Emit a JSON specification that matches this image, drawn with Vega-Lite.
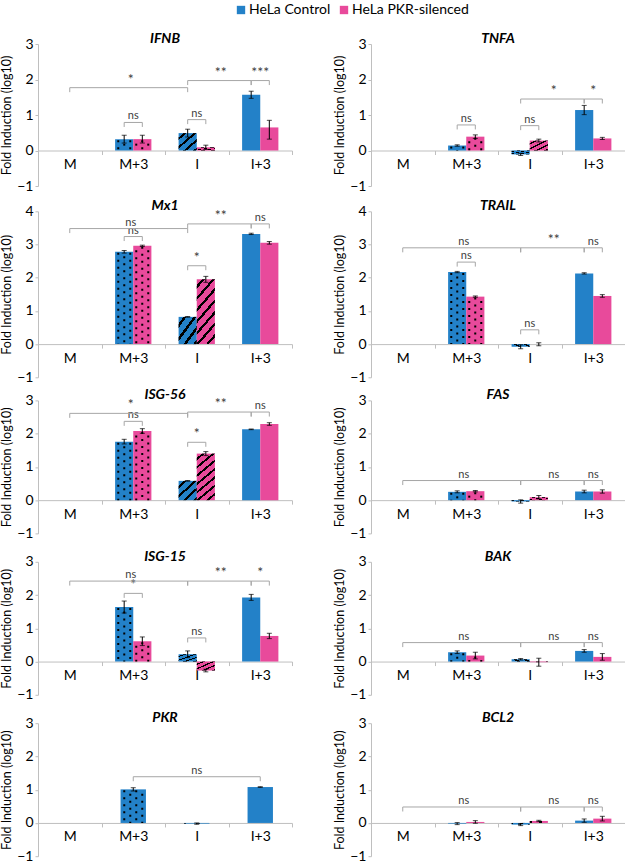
{
"$schema": "https://vega.github.io/schema/vega-lite/v6.json",
"padding": {"left": 0, "top": 3, "right": 0, "bottom": 0},
"config": {"view": {"stroke": null}, "font": "Lato", "axis": {"labelFont": "Lato", "titleFont": "Lato"}},
"datasets": {"rows": [
{"gene":"IFNB","kind":"bar","cat":"M+3","series":"HeLa Control","value":0.32,"lo":0.21,"hi":0.43},
{"gene":"IFNB","kind":"bar","cat":"M+3","series":"HeLa PKR-silenced","value":0.32,"lo":0.21,"hi":0.43},
{"gene":"IFNB","kind":"bar","cat":"I","series":"HeLa Control","value":0.49,"lo":0.38,"hi":0.6},
{"gene":"IFNB","kind":"bar","cat":"I","series":"HeLa PKR-silenced","value":0.09,"lo":0.03,"hi":0.15},
{"gene":"IFNB","kind":"bar","cat":"I+3","series":"HeLa Control","value":1.57,"lo":1.47,"hi":1.67},
{"gene":"IFNB","kind":"bar","cat":"I+3","series":"HeLa PKR-silenced","value":0.65,"lo":0.32,"hi":0.85},
{"gene":"IFNB","kind":"br","type":"pair","from":"M+3","to":"M+3","level":0.79,"label":"ns"},
{"gene":"IFNB","kind":"br","type":"pair","from":"I","to":"I","level":0.87,"label":"ns"},
{"gene":"IFNB","kind":"br","type":"pair","from":"I+3","to":"I+3","level":1.97,"label":"***"},
{"gene":"IFNB","kind":"br","type":"MI","from":"M","to":"I","level":1.77,"label":"*"},
{"gene":"IFNB","kind":"br","type":"II3","from":"I","to":"I+3","level":1.97,"label":"**"},
{"gene":"TNFA","kind":"bar","cat":"M+3","series":"HeLa Control","value":0.14,"lo":0.12,"hi":0.16},
{"gene":"TNFA","kind":"bar","cat":"M+3","series":"HeLa PKR-silenced","value":0.39,"lo":0.34,"hi":0.44},
{"gene":"TNFA","kind":"bar","cat":"I","series":"HeLa Control","value":-0.11,"lo":-0.14,"hi":-0.08},
{"gene":"TNFA","kind":"bar","cat":"I","series":"HeLa PKR-silenced","value":0.28,"lo":0.24,"hi":0.32},
{"gene":"TNFA","kind":"bar","cat":"I+3","series":"HeLa Control","value":1.14,"lo":1.01,"hi":1.27},
{"gene":"TNFA","kind":"bar","cat":"I+3","series":"HeLa PKR-silenced","value":0.34,"lo":0.31,"hi":0.37},
{"gene":"TNFA","kind":"br","type":"pair","from":"M+3","to":"M+3","level":0.72,"label":"ns"},
{"gene":"TNFA","kind":"br","type":"pair","from":"I","to":"I","level":0.7,"label":"ns"},
{"gene":"TNFA","kind":"br","type":"pair","from":"I+3","to":"I+3","level":1.45,"label":"*"},
{"gene":"TNFA","kind":"br","type":"II3","from":"I","to":"I+3","level":1.45,"label":"*"},
{"gene":"Mx1","kind":"bar","cat":"M+3","series":"HeLa Control","value":2.78,"lo":2.74,"hi":2.82},
{"gene":"Mx1","kind":"bar","cat":"M+3","series":"HeLa PKR-silenced","value":2.96,"lo":2.94,"hi":2.98},
{"gene":"Mx1","kind":"bar","cat":"I","series":"HeLa Control","value":0.82,"lo":0.81,"hi":0.83},
{"gene":"Mx1","kind":"bar","cat":"I","series":"HeLa PKR-silenced","value":1.95,"lo":1.86,"hi":2.04},
{"gene":"Mx1","kind":"bar","cat":"I+3","series":"HeLa Control","value":3.32,"lo":3.3,"hi":3.34},
{"gene":"Mx1","kind":"bar","cat":"I+3","series":"HeLa PKR-silenced","value":3.05,"lo":3.01,"hi":3.09},
{"gene":"Mx1","kind":"br","type":"pair","from":"M+3","to":"M+3","level":3.24,"label":"ns"},
{"gene":"Mx1","kind":"br","type":"pair","from":"I","to":"I","level":2.36,"label":"*"},
{"gene":"Mx1","kind":"br","type":"pair","from":"I+3","to":"I+3","level":3.62,"label":"ns"},
{"gene":"Mx1","kind":"br","type":"MI","from":"M","to":"I","level":3.48,"label":"ns"},
{"gene":"Mx1","kind":"br","type":"II3","from":"I","to":"I+3","level":3.62,"label":"**"},
{"gene":"TRAIL","kind":"bar","cat":"M+3","series":"HeLa Control","value":2.17,"lo":2.15,"hi":2.19},
{"gene":"TRAIL","kind":"bar","cat":"M+3","series":"HeLa PKR-silenced","value":1.43,"lo":1.41,"hi":1.45},
{"gene":"TRAIL","kind":"bar","cat":"I","series":"HeLa Control","value":-0.08,"lo":-0.14,"hi":-0.02},
{"gene":"TRAIL","kind":"bar","cat":"I","series":"HeLa PKR-silenced","value":0.0,"lo":-0.05,"hi":0.04},
{"gene":"TRAIL","kind":"bar","cat":"I+3","series":"HeLa Control","value":2.13,"lo":2.11,"hi":2.15},
{"gene":"TRAIL","kind":"bar","cat":"I+3","series":"HeLa PKR-silenced","value":1.45,"lo":1.41,"hi":1.49},
{"gene":"TRAIL","kind":"br","type":"pair","from":"M+3","to":"M+3","level":2.47,"label":"ns"},
{"gene":"TRAIL","kind":"br","type":"pair","from":"I","to":"I","level":0.43,"label":"ns"},
{"gene":"TRAIL","kind":"br","type":"pair","from":"I+3","to":"I+3","level":2.9,"label":"ns"},
{"gene":"TRAIL","kind":"br","type":"MI","from":"M","to":"I","level":2.9,"label":"ns"},
{"gene":"TRAIL","kind":"br","type":"II3","from":"I","to":"I+3","level":2.9,"label":"**"},
{"gene":"ISG-56","kind":"bar","cat":"M+3","series":"HeLa Control","value":1.76,"lo":1.69,"hi":1.83},
{"gene":"ISG-56","kind":"bar","cat":"M+3","series":"HeLa PKR-silenced","value":2.08,"lo":2.01,"hi":2.15},
{"gene":"ISG-56","kind":"bar","cat":"I","series":"HeLa Control","value":0.58,"lo":0.57,"hi":0.59},
{"gene":"ISG-56","kind":"bar","cat":"I","series":"HeLa PKR-silenced","value":1.4,"lo":1.34,"hi":1.46},
{"gene":"ISG-56","kind":"bar","cat":"I+3","series":"HeLa Control","value":2.13,"lo":2.12,"hi":2.14},
{"gene":"ISG-56","kind":"bar","cat":"I+3","series":"HeLa PKR-silenced","value":2.29,"lo":2.25,"hi":2.33},
{"gene":"ISG-56","kind":"br","type":"pair","from":"M+3","to":"M+3","level":2.37,"label":"ns"},
{"gene":"ISG-56","kind":"br","type":"pair","from":"I","to":"I","level":1.74,"label":"*"},
{"gene":"ISG-56","kind":"br","type":"pair","from":"I+3","to":"I+3","level":2.65,"label":"ns"},
{"gene":"ISG-56","kind":"br","type":"MI","from":"M","to":"I","level":2.61,"label":"*"},
{"gene":"ISG-56","kind":"br","type":"II3","from":"I","to":"I+3","level":2.65,"label":"**"},
{"gene":"FAS","kind":"bar","cat":"M+3","series":"HeLa Control","value":0.25,"lo":0.22,"hi":0.28},
{"gene":"FAS","kind":"bar","cat":"M+3","series":"HeLa PKR-silenced","value":0.27,"lo":0.25,"hi":0.29},
{"gene":"FAS","kind":"bar","cat":"I","series":"HeLa Control","value":-0.04,"lo":-0.09,"hi":0.01},
{"gene":"FAS","kind":"bar","cat":"I","series":"HeLa PKR-silenced","value":0.09,"lo":0.04,"hi":0.14},
{"gene":"FAS","kind":"bar","cat":"I+3","series":"HeLa Control","value":0.26,"lo":0.22,"hi":0.3},
{"gene":"FAS","kind":"bar","cat":"I+3","series":"HeLa PKR-silenced","value":0.26,"lo":0.21,"hi":0.31},
{"gene":"FAS","kind":"br","type":"pair","from":"I+3","to":"I+3","level":0.59,"label":"ns"},
{"gene":"FAS","kind":"br","type":"MI","from":"M","to":"I","level":0.59,"label":"ns"},
{"gene":"FAS","kind":"br","type":"II3","from":"I","to":"I+3","level":0.59,"label":"ns"},
{"gene":"ISG-15","kind":"bar","cat":"M+3","series":"HeLa Control","value":1.64,"lo":1.46,"hi":1.82},
{"gene":"ISG-15","kind":"bar","cat":"M+3","series":"HeLa PKR-silenced","value":0.61,"lo":0.48,"hi":0.74},
{"gene":"ISG-15","kind":"bar","cat":"I","series":"HeLa Control","value":0.22,"lo":0.12,"hi":0.32},
{"gene":"ISG-15","kind":"bar","cat":"I","series":"HeLa PKR-silenced","value":-0.27,"lo":-0.31,"hi":-0.23},
{"gene":"ISG-15","kind":"bar","cat":"I+3","series":"HeLa Control","value":1.93,"lo":1.84,"hi":2.02},
{"gene":"ISG-15","kind":"bar","cat":"I+3","series":"HeLa PKR-silenced","value":0.77,"lo":0.69,"hi":0.85},
{"gene":"ISG-15","kind":"br","type":"pair","from":"M+3","to":"M+3","level":2.05,"label":"*"},
{"gene":"ISG-15","kind":"br","type":"pair","from":"I","to":"I","level":0.71,"label":"ns"},
{"gene":"ISG-15","kind":"br","type":"pair","from":"I+3","to":"I+3","level":2.42,"label":"*"},
{"gene":"ISG-15","kind":"br","type":"MI","from":"M","to":"I","level":2.42,"label":"ns"},
{"gene":"ISG-15","kind":"br","type":"II3","from":"I","to":"I+3","level":2.42,"label":"**"},
{"gene":"BAK","kind":"bar","cat":"M+3","series":"HeLa Control","value":0.28,"lo":0.24,"hi":0.32},
{"gene":"BAK","kind":"bar","cat":"M+3","series":"HeLa PKR-silenced","value":0.18,"lo":0.08,"hi":0.28},
{"gene":"BAK","kind":"bar","cat":"I","series":"HeLa Control","value":0.07,"lo":0.05,"hi":0.09},
{"gene":"BAK","kind":"bar","cat":"I","series":"HeLa PKR-silenced","value":-0.02,"lo":-0.14,"hi":0.1},
{"gene":"BAK","kind":"bar","cat":"I+3","series":"HeLa Control","value":0.32,"lo":0.28,"hi":0.36},
{"gene":"BAK","kind":"bar","cat":"I+3","series":"HeLa PKR-silenced","value":0.14,"lo":0.04,"hi":0.24},
{"gene":"BAK","kind":"br","type":"pair","from":"I+3","to":"I+3","level":0.57,"label":"ns"},
{"gene":"BAK","kind":"br","type":"MI","from":"M","to":"I","level":0.57,"label":"ns"},
{"gene":"BAK","kind":"br","type":"II3","from":"I","to":"I+3","level":0.57,"label":"ns"},
{"gene":"PKR","kind":"bar","cat":"M+3","series":"HeLa Control","value":1.01,"lo":0.96,"hi":1.06},
{"gene":"PKR","kind":"bar","cat":"I","series":"HeLa Control","value":-0.02,"lo":-0.04,"hi":0.0},
{"gene":"PKR","kind":"bar","cat":"I+3","series":"HeLa Control","value":1.08,"lo":1.07,"hi":1.09},
{"gene":"PKR","kind":"br","type":"c2c","from":"M+3","to":"I+3","level":1.39,"label":"ns"},
{"gene":"BCL2","kind":"bar","cat":"M+3","series":"HeLa Control","value":-0.02,"lo":-0.05,"hi":0.01},
{"gene":"BCL2","kind":"bar","cat":"M+3","series":"HeLa PKR-silenced","value":0.03,"lo":-0.01,"hi":0.07},
{"gene":"BCL2","kind":"bar","cat":"I","series":"HeLa Control","value":-0.05,"lo":-0.08,"hi":-0.02},
{"gene":"BCL2","kind":"bar","cat":"I","series":"HeLa PKR-silenced","value":0.06,"lo":0.04,"hi":0.08},
{"gene":"BCL2","kind":"bar","cat":"I+3","series":"HeLa Control","value":0.07,"lo":0.02,"hi":0.12},
{"gene":"BCL2","kind":"bar","cat":"I+3","series":"HeLa PKR-silenced","value":0.13,"lo":0.06,"hi":0.2},
{"gene":"BCL2","kind":"br","type":"pair","from":"I+3","to":"I+3","level":0.48,"label":"ns"},
{"gene":"BCL2","kind":"br","type":"MI","from":"M","to":"I","level":0.48,"label":"ns"},
{"gene":"BCL2","kind":"br","type":"II3","from":"I","to":"I+3","level":0.48,"label":"ns"}
]},
"data": {"name": "rows"},
"spacing": 3.4,
"vconcat": [
{"spacing": 6.3, "vconcat": [
{
"transform": [{"filter": {"field": "gene", "oneOf": ["IFNB", "TNFA"]}}],
"facet": {"field": "gene", "type": "nominal", "sort": ["IFNB", "TNFA"], "header": {"title": null, "labelFontSize": 14, "labelFontWeight": "bold", "labelFontStyle": "italic", "labelColor": "#000", "labelPadding": -9, "labelFont": "Lato"}},
"columns": 2,
"spacing": {"row": 9.4, "column": 40},
"resolve": {"scale": {"xOffset": "independent"}, "axis": {"x": "independent", "y": "independent"}},
"spec": {"width": 254, "height": 142, "layer": [
{"transform": [{"filter": "datum.kind=='bar'"}], "mark": {"type": "bar"},
 "encoding": {
  "x": {"field": "cat", "type": "nominal", "sort": ["M","M+3","I","I+3"], "scale": {"type": "band", "domain": ["M","M+3","I","I+3"], "paddingInner": 0, "paddingOuter": 0},
        "axis": {"title": null, "tickBand": "extent", "offset": -35.5, "domainColor": "#BFBFBF", "tickColor": "#BFBFBF", "tickSize": 4, "labelAngle": 0, "labelFontSize": 14, "labelPadding": 3, "labelColor": "#000"}},
  "xOffset": {"field": "series", "type": "nominal", "scale": {"paddingInner": 0, "paddingOuter": 0.75}},
  "y": {"field": "value", "type": "quantitative", "scale": {"domain": [-1, 3], "nice": false},
        "axis": {"title": "Fold Induction (log10)", "values": [-1,0,1,2,3], "tickCount": 10, "format": "d", "labelOverlap": false, "grid": false, "domainColor": "#BFBFBF", "tickColor": "#BFBFBF", "tickSize": 3, "labelFontSize": 14, "labelPadding": 2, "labelColor": "#000", "titleFontSize": 12.5, "titleFontWeight": "normal", "titleColor": "#000", "titlePadding": 3}},
  "color": {"field": "series", "type": "nominal", "scale": {"domain": ["HeLa Control", "HeLa PKR-silenced"], "range": ["#2381C8", "#E84A9B"]},
        "legend": {"orient": "none", "legendX": 196, "legendY": -41, "direction": "horizontal", "title": null, "symbolType": "square", "symbolSize": 70, "labelFontSize": 14, "labelFont": "Lato", "labelColor": "#000", "columnPadding": 6, "labelOffset": 1}}
 }},
{"transform": [{"filter": "datum.kind=='bar' && datum.cat=='M+3' && datum.series=='HeLa Control' && datum.gene!='PKR'"}], "mark": {"type": "rule", "color": "#000000", "strokeWidth": 2, "strokeDash": [2, 5], "strokeDashOffset": 6, "xOffset": -15}, "encoding": {"x": {"field": "cat", "type": "nominal"}, "y": {"field": "value", "type": "quantitative"}, "y2": {"datum": 0}}},
{"transform": [{"filter": "datum.kind=='bar' && datum.cat=='M+3' && datum.series=='HeLa Control' && datum.gene!='PKR'"}], "mark": {"type": "rule", "color": "#000000", "strokeWidth": 2, "strokeDash": [2, 5], "strokeDashOffset": 2.5, "xOffset": -9}, "encoding": {"x": {"field": "cat", "type": "nominal"}, "y": {"field": "value", "type": "quantitative"}, "y2": {"datum": 0}}},
{"transform": [{"filter": "datum.kind=='bar' && datum.cat=='M+3' && datum.series=='HeLa Control' && datum.gene!='PKR'"}], "mark": {"type": "rule", "color": "#000000", "strokeWidth": 2, "strokeDash": [2, 5], "strokeDashOffset": 6, "xOffset": -3}, "encoding": {"x": {"field": "cat", "type": "nominal"}, "y": {"field": "value", "type": "quantitative"}, "y2": {"datum": 0}}},
{"transform": [{"filter": "datum.kind=='bar' && datum.cat=='M+3' && datum.series=='HeLa PKR-silenced'"}], "mark": {"type": "rule", "color": "#000000", "strokeWidth": 2, "strokeDash": [2, 5], "strokeDashOffset": 2.5, "xOffset": 3}, "encoding": {"x": {"field": "cat", "type": "nominal"}, "y": {"field": "value", "type": "quantitative"}, "y2": {"datum": 0}}},
{"transform": [{"filter": "datum.kind=='bar' && datum.cat=='M+3' && datum.series=='HeLa PKR-silenced'"}], "mark": {"type": "rule", "color": "#000000", "strokeWidth": 2, "strokeDash": [2, 5], "strokeDashOffset": 6, "xOffset": 9}, "encoding": {"x": {"field": "cat", "type": "nominal"}, "y": {"field": "value", "type": "quantitative"}, "y2": {"datum": 0}}},
{"transform": [{"filter": "datum.kind=='bar' && datum.cat=='M+3' && datum.series=='HeLa PKR-silenced'"}], "mark": {"type": "rule", "color": "#000000", "strokeWidth": 2, "strokeDash": [2, 5], "strokeDashOffset": 2.5, "xOffset": 15}, "encoding": {"x": {"field": "cat", "type": "nominal"}, "y": {"field": "value", "type": "quantitative"}, "y2": {"datum": 0}}},
{"transform": [{"filter": "datum.kind=='bar' && datum.cat=='I' && abs(datum.value) < 1"}],
 "mark": {"type": "bar", "fill": {"gradient": "linear", "x1": 0, "y1": 0, "x2": 0.945, "y2": 1.05, "stops": [
   {"offset": 0, "color": "rgba(0,0,0,0)"}, {"offset": 0.13, "color": "rgba(0,0,0,0)"}, {"offset": 0.13, "color": "#000"}, {"offset": 0.21, "color": "#000"}, {"offset": 0.21, "color": "rgba(0,0,0,0)"},
   {"offset": 0.39, "color": "rgba(0,0,0,0)"}, {"offset": 0.39, "color": "#000"}, {"offset": 0.47, "color": "#000"}, {"offset": 0.47, "color": "rgba(0,0,0,0)"},
   {"offset": 0.65, "color": "rgba(0,0,0,0)"}, {"offset": 0.65, "color": "#000"}, {"offset": 0.73, "color": "#000"}, {"offset": 0.73, "color": "rgba(0,0,0,0)"},
   {"offset": 0.91, "color": "rgba(0,0,0,0)"}, {"offset": 0.91, "color": "#000"}, {"offset": 0.99, "color": "#000"}, {"offset": 0.99, "color": "rgba(0,0,0,0)"}, {"offset": 1, "color": "rgba(0,0,0,0)"}]}},
 "encoding": {"x": {"field": "cat", "type": "nominal"}, "xOffset": {"field": "series", "type": "nominal"}, "y": {"field": "value", "type": "quantitative"}}},
{"transform": [{"filter": "datum.kind=='bar'"}], "mark": {"type": "rule", "color": "#000000", "strokeWidth": 1},
 "encoding": {"x": {"field": "cat", "type": "nominal"}, "xOffset": {"field": "series", "type": "nominal"}, "y": {"field": "lo", "type": "quantitative"}, "y2": {"field": "hi"}}},
{"transform": [{"filter": "datum.kind=='bar'"}], "mark": {"type": "tick", "color": "#000000", "size": 5, "thickness": 1, "orient": "horizontal"},
 "encoding": {"x": {"field": "cat", "type": "nominal"}, "xOffset": {"field": "series", "type": "nominal"}, "y": {"field": "lo", "type": "quantitative"}}},
{"transform": [{"filter": "datum.kind=='bar'"}], "mark": {"type": "tick", "color": "#000000", "size": 5, "thickness": 1, "orient": "horizontal"},
 "encoding": {"x": {"field": "cat", "type": "nominal"}, "xOffset": {"field": "series", "type": "nominal"}, "y": {"field": "hi", "type": "quantitative"}}},
{"transform": [{"filter": "datum.type=='pair'"}], "mark": {"type": "rule", "color": "#A6A6A6", "strokeWidth": 1, "xOffset": -9.07, "x2Offset": 9.07},
 "encoding": {"x": {"field": "from", "type": "nominal"}, "x2": {"field": "to"}, "y": {"field": "level", "type": "quantitative"}}},
{"transform": [{"filter": "datum.type=='pair'"}], "mark": {"type": "rule", "color": "#A6A6A6", "strokeWidth": 1, "xOffset": -9.07, "y2Offset": 4.5},
 "encoding": {"x": {"field": "from", "type": "nominal"}, "y": {"field": "level", "type": "quantitative"}, "y2": {"field": "level"}}},
{"transform": [{"filter": "datum.type=='pair'"}], "mark": {"type": "rule", "color": "#A6A6A6", "strokeWidth": 1, "xOffset": 9.07, "y2Offset": 4.5},
 "encoding": {"x": {"field": "to", "type": "nominal"}, "y": {"field": "level", "type": "quantitative"}, "y2": {"field": "level"}}},
{"transform": [{"filter": "datum.type=='pair'"}], "mark": {"type": "text", "color": "#404040", "fontSize": 11, "baseline": "bottom", "dy": -1},
 "encoding": {"x": {"field": "from", "type": "nominal"}, "y": {"field": "level", "type": "quantitative"}, "text": {"field": "label"}, "size": {"condition": {"test": "datum.label == 'ns'", "value": 11}, "value": 14}}},
{"transform": [{"filter": "datum.type=='MI'"}], "mark": {"type": "rule", "color": "#A6A6A6", "strokeWidth": 1, "xOffset": 0, "x2Offset": -9.07},
 "encoding": {"x": {"field": "from", "type": "nominal"}, "x2": {"field": "to"}, "y": {"field": "level", "type": "quantitative"}}},
{"transform": [{"filter": "datum.type=='MI'"}], "mark": {"type": "rule", "color": "#A6A6A6", "strokeWidth": 1, "xOffset": 0, "y2Offset": 4.5},
 "encoding": {"x": {"field": "from", "type": "nominal"}, "y": {"field": "level", "type": "quantitative"}, "y2": {"field": "level"}}},
{"transform": [{"filter": "datum.type=='MI'"}], "mark": {"type": "rule", "color": "#A6A6A6", "strokeWidth": 1, "xOffset": -9.07, "y2Offset": 4.5},
 "encoding": {"x": {"field": "to", "type": "nominal"}, "y": {"field": "level", "type": "quantitative"}, "y2": {"field": "level"}}},
{"transform": [{"filter": "datum.type=='MI'"}], "mark": {"type": "text", "color": "#404040", "fontSize": 11, "baseline": "bottom", "dy": -1, "xOffset": 61},
 "encoding": {"x": {"field": "from", "type": "nominal"}, "y": {"field": "level", "type": "quantitative"}, "text": {"field": "label"}, "size": {"condition": {"test": "datum.label == 'ns'", "value": 11}, "value": 14}}},
{"transform": [{"filter": "datum.type=='II3'"}], "mark": {"type": "rule", "color": "#A6A6A6", "strokeWidth": 1, "xOffset": -9.07, "x2Offset": -9.07},
 "encoding": {"x": {"field": "from", "type": "nominal"}, "x2": {"field": "to"}, "y": {"field": "level", "type": "quantitative"}}},
{"transform": [{"filter": "datum.type=='II3'"}], "mark": {"type": "rule", "color": "#A6A6A6", "strokeWidth": 1, "xOffset": -9.07, "y2Offset": 4.5},
 "encoding": {"x": {"field": "from", "type": "nominal"}, "y": {"field": "level", "type": "quantitative"}, "y2": {"field": "level"}}},
{"transform": [{"filter": "datum.type=='II3'"}], "mark": {"type": "rule", "color": "#A6A6A6", "strokeWidth": 1, "xOffset": -9.07, "y2Offset": 4.5},
 "encoding": {"x": {"field": "to", "type": "nominal"}, "y": {"field": "level", "type": "quantitative"}, "y2": {"field": "level"}}},
{"transform": [{"filter": "datum.type=='II3'"}], "mark": {"type": "text", "color": "#404040", "fontSize": 11, "baseline": "bottom", "dy": -1, "xOffset": 24},
 "encoding": {"x": {"field": "from", "type": "nominal"}, "y": {"field": "level", "type": "quantitative"}, "text": {"field": "label"}, "size": {"condition": {"test": "datum.label == 'ns'", "value": 11}, "value": 14}}}
]}
},
{
"transform": [{"filter": {"field": "gene", "oneOf": ["Mx1", "TRAIL"]}}],
"facet": {"field": "gene", "type": "nominal", "sort": ["Mx1", "TRAIL"], "header": {"title": null, "labelFontSize": 14, "labelFontWeight": "bold", "labelFontStyle": "italic", "labelColor": "#000", "labelPadding": -9, "labelFont": "Lato"}},
"columns": 2,
"spacing": {"row": 9.4, "column": 40},
"resolve": {"scale": {"xOffset": "independent"}, "axis": {"x": "independent", "y": "independent"}},
"spec": {"width": 254, "height": 166, "layer": [
{"transform": [{"filter": "datum.kind=='bar'"}], "mark": {"type": "bar"},
 "encoding": {
  "x": {"field": "cat", "type": "nominal", "sort": ["M","M+3","I","I+3"], "scale": {"type": "band", "domain": ["M","M+3","I","I+3"], "paddingInner": 0, "paddingOuter": 0},
        "axis": {"title": null, "tickBand": "extent", "offset": -33.2, "domainColor": "#BFBFBF", "tickColor": "#BFBFBF", "tickSize": 4, "labelAngle": 0, "labelFontSize": 14, "labelPadding": 3, "labelColor": "#000"}},
  "xOffset": {"field": "series", "type": "nominal", "scale": {"paddingInner": 0, "paddingOuter": 0.75}},
  "y": {"field": "value", "type": "quantitative", "scale": {"domain": [-1, 4], "nice": false},
        "axis": {"title": "Fold Induction (log10)", "values": [-1,0,1,2,3,4], "tickCount": 10, "format": "d", "labelOverlap": false, "grid": false, "domainColor": "#BFBFBF", "tickColor": "#BFBFBF", "tickSize": 3, "labelFontSize": 14, "labelPadding": 2, "labelColor": "#000", "titleFontSize": 12.5, "titleFontWeight": "normal", "titleColor": "#000", "titlePadding": 3}},
  "color": {"field": "series", "type": "nominal", "scale": {"domain": ["HeLa Control", "HeLa PKR-silenced"], "range": ["#2381C8", "#E84A9B"]},
        "legend": {"orient": "none", "legendX": 196, "legendY": -41, "direction": "horizontal", "title": null, "symbolType": "square", "symbolSize": 70, "labelFontSize": 14, "labelFont": "Lato", "labelColor": "#000", "columnPadding": 6, "labelOffset": 1}}
 }},
{"transform": [{"filter": "datum.kind=='bar' && datum.cat=='M+3' && datum.series=='HeLa Control' && datum.gene!='PKR'"}], "mark": {"type": "rule", "color": "#000000", "strokeWidth": 2, "strokeDash": [2, 5], "strokeDashOffset": 6, "xOffset": -15}, "encoding": {"x": {"field": "cat", "type": "nominal"}, "y": {"field": "value", "type": "quantitative"}, "y2": {"datum": 0}}},
{"transform": [{"filter": "datum.kind=='bar' && datum.cat=='M+3' && datum.series=='HeLa Control' && datum.gene!='PKR'"}], "mark": {"type": "rule", "color": "#000000", "strokeWidth": 2, "strokeDash": [2, 5], "strokeDashOffset": 2.5, "xOffset": -9}, "encoding": {"x": {"field": "cat", "type": "nominal"}, "y": {"field": "value", "type": "quantitative"}, "y2": {"datum": 0}}},
{"transform": [{"filter": "datum.kind=='bar' && datum.cat=='M+3' && datum.series=='HeLa Control' && datum.gene!='PKR'"}], "mark": {"type": "rule", "color": "#000000", "strokeWidth": 2, "strokeDash": [2, 5], "strokeDashOffset": 6, "xOffset": -3}, "encoding": {"x": {"field": "cat", "type": "nominal"}, "y": {"field": "value", "type": "quantitative"}, "y2": {"datum": 0}}},
{"transform": [{"filter": "datum.kind=='bar' && datum.cat=='M+3' && datum.series=='HeLa PKR-silenced'"}], "mark": {"type": "rule", "color": "#000000", "strokeWidth": 2, "strokeDash": [2, 5], "strokeDashOffset": 2.5, "xOffset": 3}, "encoding": {"x": {"field": "cat", "type": "nominal"}, "y": {"field": "value", "type": "quantitative"}, "y2": {"datum": 0}}},
{"transform": [{"filter": "datum.kind=='bar' && datum.cat=='M+3' && datum.series=='HeLa PKR-silenced'"}], "mark": {"type": "rule", "color": "#000000", "strokeWidth": 2, "strokeDash": [2, 5], "strokeDashOffset": 6, "xOffset": 9}, "encoding": {"x": {"field": "cat", "type": "nominal"}, "y": {"field": "value", "type": "quantitative"}, "y2": {"datum": 0}}},
{"transform": [{"filter": "datum.kind=='bar' && datum.cat=='M+3' && datum.series=='HeLa PKR-silenced'"}], "mark": {"type": "rule", "color": "#000000", "strokeWidth": 2, "strokeDash": [2, 5], "strokeDashOffset": 2.5, "xOffset": 15}, "encoding": {"x": {"field": "cat", "type": "nominal"}, "y": {"field": "value", "type": "quantitative"}, "y2": {"datum": 0}}},
{"transform": [{"filter": "datum.kind=='bar' && datum.cat=='I' && abs(datum.value) < 1"}],
 "mark": {"type": "bar", "fill": {"gradient": "linear", "x1": 0, "y1": 0, "x2": 0.945, "y2": 1.05, "stops": [
   {"offset": 0, "color": "rgba(0,0,0,0)"}, {"offset": 0.13, "color": "rgba(0,0,0,0)"}, {"offset": 0.13, "color": "#000"}, {"offset": 0.21, "color": "#000"}, {"offset": 0.21, "color": "rgba(0,0,0,0)"},
   {"offset": 0.39, "color": "rgba(0,0,0,0)"}, {"offset": 0.39, "color": "#000"}, {"offset": 0.47, "color": "#000"}, {"offset": 0.47, "color": "rgba(0,0,0,0)"},
   {"offset": 0.65, "color": "rgba(0,0,0,0)"}, {"offset": 0.65, "color": "#000"}, {"offset": 0.73, "color": "#000"}, {"offset": 0.73, "color": "rgba(0,0,0,0)"},
   {"offset": 0.91, "color": "rgba(0,0,0,0)"}, {"offset": 0.91, "color": "#000"}, {"offset": 0.99, "color": "#000"}, {"offset": 0.99, "color": "rgba(0,0,0,0)"}, {"offset": 1, "color": "rgba(0,0,0,0)"}]}},
 "encoding": {"x": {"field": "cat", "type": "nominal"}, "xOffset": {"field": "series", "type": "nominal"}, "y": {"field": "value", "type": "quantitative"}}},
{"transform": [{"filter": "datum.kind=='bar' && datum.cat=='I' && abs(datum.value) >= 1"}],
 "mark": {"type": "bar", "fill": {"gradient": "linear", "x1": 0, "y1": 0, "x2": 0.388, "y2": 1.198, "stops": [
   {"offset": 0, "color": "rgba(0,0,0,0)"}, {"offset": 0.07, "color": "rgba(0,0,0,0)"}, {"offset": 0.07, "color": "#000"}, {"offset": 0.11, "color": "#000"}, {"offset": 0.11, "color": "rgba(0,0,0,0)"},
   {"offset": 0.205, "color": "rgba(0,0,0,0)"}, {"offset": 0.205, "color": "#000"}, {"offset": 0.245, "color": "#000"}, {"offset": 0.245, "color": "rgba(0,0,0,0)"},
   {"offset": 0.34, "color": "rgba(0,0,0,0)"}, {"offset": 0.34, "color": "#000"}, {"offset": 0.38, "color": "#000"}, {"offset": 0.38, "color": "rgba(0,0,0,0)"},
   {"offset": 0.475, "color": "rgba(0,0,0,0)"}, {"offset": 0.475, "color": "#000"}, {"offset": 0.515, "color": "#000"}, {"offset": 0.515, "color": "rgba(0,0,0,0)"},
   {"offset": 0.61, "color": "rgba(0,0,0,0)"}, {"offset": 0.61, "color": "#000"}, {"offset": 0.65, "color": "#000"}, {"offset": 0.65, "color": "rgba(0,0,0,0)"},
   {"offset": 0.745, "color": "rgba(0,0,0,0)"}, {"offset": 0.745, "color": "#000"}, {"offset": 0.785, "color": "#000"}, {"offset": 0.785, "color": "rgba(0,0,0,0)"},
   {"offset": 0.88, "color": "rgba(0,0,0,0)"}, {"offset": 0.88, "color": "#000"}, {"offset": 0.92, "color": "#000"}, {"offset": 0.92, "color": "rgba(0,0,0,0)"}, {"offset": 1, "color": "rgba(0,0,0,0)"}]}},
 "encoding": {"x": {"field": "cat", "type": "nominal"}, "xOffset": {"field": "series", "type": "nominal"}, "y": {"field": "value", "type": "quantitative"}}},
{"transform": [{"filter": "datum.kind=='bar'"}], "mark": {"type": "rule", "color": "#000000", "strokeWidth": 1},
 "encoding": {"x": {"field": "cat", "type": "nominal"}, "xOffset": {"field": "series", "type": "nominal"}, "y": {"field": "lo", "type": "quantitative"}, "y2": {"field": "hi"}}},
{"transform": [{"filter": "datum.kind=='bar'"}], "mark": {"type": "tick", "color": "#000000", "size": 5, "thickness": 1, "orient": "horizontal"},
 "encoding": {"x": {"field": "cat", "type": "nominal"}, "xOffset": {"field": "series", "type": "nominal"}, "y": {"field": "lo", "type": "quantitative"}}},
{"transform": [{"filter": "datum.kind=='bar'"}], "mark": {"type": "tick", "color": "#000000", "size": 5, "thickness": 1, "orient": "horizontal"},
 "encoding": {"x": {"field": "cat", "type": "nominal"}, "xOffset": {"field": "series", "type": "nominal"}, "y": {"field": "hi", "type": "quantitative"}}},
{"transform": [{"filter": "datum.type=='pair'"}], "mark": {"type": "rule", "color": "#A6A6A6", "strokeWidth": 1, "xOffset": -9.07, "x2Offset": 9.07},
 "encoding": {"x": {"field": "from", "type": "nominal"}, "x2": {"field": "to"}, "y": {"field": "level", "type": "quantitative"}}},
{"transform": [{"filter": "datum.type=='pair'"}], "mark": {"type": "rule", "color": "#A6A6A6", "strokeWidth": 1, "xOffset": -9.07, "y2Offset": 4.5},
 "encoding": {"x": {"field": "from", "type": "nominal"}, "y": {"field": "level", "type": "quantitative"}, "y2": {"field": "level"}}},
{"transform": [{"filter": "datum.type=='pair'"}], "mark": {"type": "rule", "color": "#A6A6A6", "strokeWidth": 1, "xOffset": 9.07, "y2Offset": 4.5},
 "encoding": {"x": {"field": "to", "type": "nominal"}, "y": {"field": "level", "type": "quantitative"}, "y2": {"field": "level"}}},
{"transform": [{"filter": "datum.type=='pair'"}], "mark": {"type": "text", "color": "#404040", "fontSize": 11, "baseline": "bottom", "dy": -1},
 "encoding": {"x": {"field": "from", "type": "nominal"}, "y": {"field": "level", "type": "quantitative"}, "text": {"field": "label"}, "size": {"condition": {"test": "datum.label == 'ns'", "value": 11}, "value": 14}}},
{"transform": [{"filter": "datum.type=='MI'"}], "mark": {"type": "rule", "color": "#A6A6A6", "strokeWidth": 1, "xOffset": 0, "x2Offset": -9.07},
 "encoding": {"x": {"field": "from", "type": "nominal"}, "x2": {"field": "to"}, "y": {"field": "level", "type": "quantitative"}}},
{"transform": [{"filter": "datum.type=='MI'"}], "mark": {"type": "rule", "color": "#A6A6A6", "strokeWidth": 1, "xOffset": 0, "y2Offset": 4.5},
 "encoding": {"x": {"field": "from", "type": "nominal"}, "y": {"field": "level", "type": "quantitative"}, "y2": {"field": "level"}}},
{"transform": [{"filter": "datum.type=='MI'"}], "mark": {"type": "rule", "color": "#A6A6A6", "strokeWidth": 1, "xOffset": -9.07, "y2Offset": 4.5},
 "encoding": {"x": {"field": "to", "type": "nominal"}, "y": {"field": "level", "type": "quantitative"}, "y2": {"field": "level"}}},
{"transform": [{"filter": "datum.type=='MI'"}], "mark": {"type": "text", "color": "#404040", "fontSize": 11, "baseline": "bottom", "dy": -1, "xOffset": 61},
 "encoding": {"x": {"field": "from", "type": "nominal"}, "y": {"field": "level", "type": "quantitative"}, "text": {"field": "label"}, "size": {"condition": {"test": "datum.label == 'ns'", "value": 11}, "value": 14}}},
{"transform": [{"filter": "datum.type=='II3'"}], "mark": {"type": "rule", "color": "#A6A6A6", "strokeWidth": 1, "xOffset": -9.07, "x2Offset": -9.07},
 "encoding": {"x": {"field": "from", "type": "nominal"}, "x2": {"field": "to"}, "y": {"field": "level", "type": "quantitative"}}},
{"transform": [{"filter": "datum.type=='II3'"}], "mark": {"type": "rule", "color": "#A6A6A6", "strokeWidth": 1, "xOffset": -9.07, "y2Offset": 4.5},
 "encoding": {"x": {"field": "from", "type": "nominal"}, "y": {"field": "level", "type": "quantitative"}, "y2": {"field": "level"}}},
{"transform": [{"filter": "datum.type=='II3'"}], "mark": {"type": "rule", "color": "#A6A6A6", "strokeWidth": 1, "xOffset": -9.07, "y2Offset": 4.5},
 "encoding": {"x": {"field": "to", "type": "nominal"}, "y": {"field": "level", "type": "quantitative"}, "y2": {"field": "level"}}},
{"transform": [{"filter": "datum.type=='II3'"}], "mark": {"type": "text", "color": "#404040", "fontSize": 11, "baseline": "bottom", "dy": -1, "xOffset": 24},
 "encoding": {"x": {"field": "from", "type": "nominal"}, "y": {"field": "level", "type": "quantitative"}, "text": {"field": "label"}, "size": {"condition": {"test": "datum.label == 'ns'", "value": 11}, "value": 14}}}
]}
}
]},
{
"transform": [{"filter": {"field": "gene", "oneOf": ["ISG-56", "FAS", "ISG-15", "BAK", "PKR", "BCL2"]}}],
"facet": {"field": "gene", "type": "nominal", "sort": ["ISG-56", "FAS", "ISG-15", "BAK", "PKR", "BCL2"], "header": {"title": null, "labelFontSize": 14, "labelFontWeight": "bold", "labelFontStyle": "italic", "labelColor": "#000", "labelPadding": -9, "labelFont": "Lato"}},
"columns": 2,
"spacing": {"row": 9.4, "column": 40},
"resolve": {"scale": {"xOffset": "independent"}, "axis": {"x": "independent", "y": "independent"}},
"spec": {"width": 254, "height": 133, "layer": [
{"transform": [{"filter": "datum.kind=='bar'"}], "mark": {"type": "bar"},
 "encoding": {
  "x": {"field": "cat", "type": "nominal", "sort": ["M","M+3","I","I+3"], "scale": {"type": "band", "domain": ["M","M+3","I","I+3"], "paddingInner": 0, "paddingOuter": 0},
        "axis": {"title": null, "tickBand": "extent", "offset": -33.25, "domainColor": "#BFBFBF", "tickColor": "#BFBFBF", "tickSize": 4, "labelAngle": 0, "labelFontSize": 14, "labelPadding": 3, "labelColor": "#000"}},
  "xOffset": {"field": "series", "type": "nominal", "scale": {"paddingInner": 0, "paddingOuter": 0.75}},
  "y": {"field": "value", "type": "quantitative", "scale": {"domain": [-1, 3], "nice": false},
        "axis": {"title": "Fold Induction (log10)", "values": [-1,0,1,2,3], "tickCount": 10, "format": "d", "labelOverlap": false, "grid": false, "domainColor": "#BFBFBF", "tickColor": "#BFBFBF", "tickSize": 3, "labelFontSize": 14, "labelPadding": 2, "labelColor": "#000", "titleFontSize": 12.5, "titleFontWeight": "normal", "titleColor": "#000", "titlePadding": 3}},
  "color": {"field": "series", "type": "nominal", "scale": {"domain": ["HeLa Control", "HeLa PKR-silenced"], "range": ["#2381C8", "#E84A9B"]},
        "legend": {"orient": "none", "legendX": 196, "legendY": -41, "direction": "horizontal", "title": null, "symbolType": "square", "symbolSize": 70, "labelFontSize": 14, "labelFont": "Lato", "labelColor": "#000", "columnPadding": 6, "labelOffset": 1}}
 }},
{"transform": [{"filter": "datum.kind=='bar' && datum.cat=='M+3' && datum.series=='HeLa Control' && datum.gene!='PKR'"}], "mark": {"type": "rule", "color": "#000000", "strokeWidth": 2, "strokeDash": [2, 5], "strokeDashOffset": 6, "xOffset": -15}, "encoding": {"x": {"field": "cat", "type": "nominal"}, "y": {"field": "value", "type": "quantitative"}, "y2": {"datum": 0}}},
{"transform": [{"filter": "datum.kind=='bar' && datum.cat=='M+3' && datum.series=='HeLa Control' && datum.gene!='PKR'"}], "mark": {"type": "rule", "color": "#000000", "strokeWidth": 2, "strokeDash": [2, 5], "strokeDashOffset": 2.5, "xOffset": -9}, "encoding": {"x": {"field": "cat", "type": "nominal"}, "y": {"field": "value", "type": "quantitative"}, "y2": {"datum": 0}}},
{"transform": [{"filter": "datum.kind=='bar' && datum.cat=='M+3' && datum.series=='HeLa Control' && datum.gene!='PKR'"}], "mark": {"type": "rule", "color": "#000000", "strokeWidth": 2, "strokeDash": [2, 5], "strokeDashOffset": 6, "xOffset": -3}, "encoding": {"x": {"field": "cat", "type": "nominal"}, "y": {"field": "value", "type": "quantitative"}, "y2": {"datum": 0}}},
{"transform": [{"filter": "datum.kind=='bar' && datum.cat=='M+3' && datum.series=='HeLa PKR-silenced'"}], "mark": {"type": "rule", "color": "#000000", "strokeWidth": 2, "strokeDash": [2, 5], "strokeDashOffset": 2.5, "xOffset": 3}, "encoding": {"x": {"field": "cat", "type": "nominal"}, "y": {"field": "value", "type": "quantitative"}, "y2": {"datum": 0}}},
{"transform": [{"filter": "datum.kind=='bar' && datum.cat=='M+3' && datum.series=='HeLa PKR-silenced'"}], "mark": {"type": "rule", "color": "#000000", "strokeWidth": 2, "strokeDash": [2, 5], "strokeDashOffset": 6, "xOffset": 9}, "encoding": {"x": {"field": "cat", "type": "nominal"}, "y": {"field": "value", "type": "quantitative"}, "y2": {"datum": 0}}},
{"transform": [{"filter": "datum.kind=='bar' && datum.cat=='M+3' && datum.series=='HeLa PKR-silenced'"}], "mark": {"type": "rule", "color": "#000000", "strokeWidth": 2, "strokeDash": [2, 5], "strokeDashOffset": 2.5, "xOffset": 15}, "encoding": {"x": {"field": "cat", "type": "nominal"}, "y": {"field": "value", "type": "quantitative"}, "y2": {"datum": 0}}},
{"transform": [{"filter": "datum.kind=='bar' && datum.cat=='M+3' && datum.gene=='PKR'"}], "mark": {"type": "rule", "color": "#000000", "strokeWidth": 2, "strokeDash": [2, 5], "strokeDashOffset": 6, "xOffset": -9}, "encoding": {"x": {"field": "cat", "type": "nominal"}, "y": {"field": "value", "type": "quantitative"}, "y2": {"datum": 0}}},
{"transform": [{"filter": "datum.kind=='bar' && datum.cat=='M+3' && datum.gene=='PKR'"}], "mark": {"type": "rule", "color": "#000000", "strokeWidth": 2, "strokeDash": [2, 5], "strokeDashOffset": 2.5, "xOffset": -3}, "encoding": {"x": {"field": "cat", "type": "nominal"}, "y": {"field": "value", "type": "quantitative"}, "y2": {"datum": 0}}},
{"transform": [{"filter": "datum.kind=='bar' && datum.cat=='M+3' && datum.gene=='PKR'"}], "mark": {"type": "rule", "color": "#000000", "strokeWidth": 2, "strokeDash": [2, 5], "strokeDashOffset": 6, "xOffset": 3}, "encoding": {"x": {"field": "cat", "type": "nominal"}, "y": {"field": "value", "type": "quantitative"}, "y2": {"datum": 0}}},
{"transform": [{"filter": "datum.kind=='bar' && datum.cat=='M+3' && datum.gene=='PKR'"}], "mark": {"type": "rule", "color": "#000000", "strokeWidth": 2, "strokeDash": [2, 5], "strokeDashOffset": 2.5, "xOffset": 9}, "encoding": {"x": {"field": "cat", "type": "nominal"}, "y": {"field": "value", "type": "quantitative"}, "y2": {"datum": 0}}},
{"transform": [{"filter": "datum.kind=='bar' && datum.cat=='I' && abs(datum.value) < 1"}],
 "mark": {"type": "bar", "fill": {"gradient": "linear", "x1": 0, "y1": 0, "x2": 0.945, "y2": 1.05, "stops": [
   {"offset": 0, "color": "rgba(0,0,0,0)"}, {"offset": 0.13, "color": "rgba(0,0,0,0)"}, {"offset": 0.13, "color": "#000"}, {"offset": 0.21, "color": "#000"}, {"offset": 0.21, "color": "rgba(0,0,0,0)"},
   {"offset": 0.39, "color": "rgba(0,0,0,0)"}, {"offset": 0.39, "color": "#000"}, {"offset": 0.47, "color": "#000"}, {"offset": 0.47, "color": "rgba(0,0,0,0)"},
   {"offset": 0.65, "color": "rgba(0,0,0,0)"}, {"offset": 0.65, "color": "#000"}, {"offset": 0.73, "color": "#000"}, {"offset": 0.73, "color": "rgba(0,0,0,0)"},
   {"offset": 0.91, "color": "rgba(0,0,0,0)"}, {"offset": 0.91, "color": "#000"}, {"offset": 0.99, "color": "#000"}, {"offset": 0.99, "color": "rgba(0,0,0,0)"}, {"offset": 1, "color": "rgba(0,0,0,0)"}]}},
 "encoding": {"x": {"field": "cat", "type": "nominal"}, "xOffset": {"field": "series", "type": "nominal"}, "y": {"field": "value", "type": "quantitative"}}},
{"transform": [{"filter": "datum.kind=='bar' && datum.cat=='I' && abs(datum.value) >= 1"}],
 "mark": {"type": "bar", "fill": {"gradient": "linear", "x1": 0, "y1": 0, "x2": 0.388, "y2": 1.198, "stops": [
   {"offset": 0, "color": "rgba(0,0,0,0)"}, {"offset": 0.07, "color": "rgba(0,0,0,0)"}, {"offset": 0.07, "color": "#000"}, {"offset": 0.11, "color": "#000"}, {"offset": 0.11, "color": "rgba(0,0,0,0)"},
   {"offset": 0.205, "color": "rgba(0,0,0,0)"}, {"offset": 0.205, "color": "#000"}, {"offset": 0.245, "color": "#000"}, {"offset": 0.245, "color": "rgba(0,0,0,0)"},
   {"offset": 0.34, "color": "rgba(0,0,0,0)"}, {"offset": 0.34, "color": "#000"}, {"offset": 0.38, "color": "#000"}, {"offset": 0.38, "color": "rgba(0,0,0,0)"},
   {"offset": 0.475, "color": "rgba(0,0,0,0)"}, {"offset": 0.475, "color": "#000"}, {"offset": 0.515, "color": "#000"}, {"offset": 0.515, "color": "rgba(0,0,0,0)"},
   {"offset": 0.61, "color": "rgba(0,0,0,0)"}, {"offset": 0.61, "color": "#000"}, {"offset": 0.65, "color": "#000"}, {"offset": 0.65, "color": "rgba(0,0,0,0)"},
   {"offset": 0.745, "color": "rgba(0,0,0,0)"}, {"offset": 0.745, "color": "#000"}, {"offset": 0.785, "color": "#000"}, {"offset": 0.785, "color": "rgba(0,0,0,0)"},
   {"offset": 0.88, "color": "rgba(0,0,0,0)"}, {"offset": 0.88, "color": "#000"}, {"offset": 0.92, "color": "#000"}, {"offset": 0.92, "color": "rgba(0,0,0,0)"}, {"offset": 1, "color": "rgba(0,0,0,0)"}]}},
 "encoding": {"x": {"field": "cat", "type": "nominal"}, "xOffset": {"field": "series", "type": "nominal"}, "y": {"field": "value", "type": "quantitative"}}},
{"transform": [{"filter": "datum.kind=='bar'"}], "mark": {"type": "rule", "color": "#000000", "strokeWidth": 1},
 "encoding": {"x": {"field": "cat", "type": "nominal"}, "xOffset": {"field": "series", "type": "nominal"}, "y": {"field": "lo", "type": "quantitative"}, "y2": {"field": "hi"}}},
{"transform": [{"filter": "datum.kind=='bar'"}], "mark": {"type": "tick", "color": "#000000", "size": 5, "thickness": 1, "orient": "horizontal"},
 "encoding": {"x": {"field": "cat", "type": "nominal"}, "xOffset": {"field": "series", "type": "nominal"}, "y": {"field": "lo", "type": "quantitative"}}},
{"transform": [{"filter": "datum.kind=='bar'"}], "mark": {"type": "tick", "color": "#000000", "size": 5, "thickness": 1, "orient": "horizontal"},
 "encoding": {"x": {"field": "cat", "type": "nominal"}, "xOffset": {"field": "series", "type": "nominal"}, "y": {"field": "hi", "type": "quantitative"}}},
{"transform": [{"filter": "datum.type=='pair'"}], "mark": {"type": "rule", "color": "#A6A6A6", "strokeWidth": 1, "xOffset": -9.07, "x2Offset": 9.07},
 "encoding": {"x": {"field": "from", "type": "nominal"}, "x2": {"field": "to"}, "y": {"field": "level", "type": "quantitative"}}},
{"transform": [{"filter": "datum.type=='pair'"}], "mark": {"type": "rule", "color": "#A6A6A6", "strokeWidth": 1, "xOffset": -9.07, "y2Offset": 4.5},
 "encoding": {"x": {"field": "from", "type": "nominal"}, "y": {"field": "level", "type": "quantitative"}, "y2": {"field": "level"}}},
{"transform": [{"filter": "datum.type=='pair'"}], "mark": {"type": "rule", "color": "#A6A6A6", "strokeWidth": 1, "xOffset": 9.07, "y2Offset": 4.5},
 "encoding": {"x": {"field": "to", "type": "nominal"}, "y": {"field": "level", "type": "quantitative"}, "y2": {"field": "level"}}},
{"transform": [{"filter": "datum.type=='pair'"}], "mark": {"type": "text", "color": "#404040", "fontSize": 11, "baseline": "bottom", "dy": -1},
 "encoding": {"x": {"field": "from", "type": "nominal"}, "y": {"field": "level", "type": "quantitative"}, "text": {"field": "label"}, "size": {"condition": {"test": "datum.label == 'ns'", "value": 11}, "value": 14}}},
{"transform": [{"filter": "datum.type=='MI'"}], "mark": {"type": "rule", "color": "#A6A6A6", "strokeWidth": 1, "xOffset": 0, "x2Offset": -9.07},
 "encoding": {"x": {"field": "from", "type": "nominal"}, "x2": {"field": "to"}, "y": {"field": "level", "type": "quantitative"}}},
{"transform": [{"filter": "datum.type=='MI'"}], "mark": {"type": "rule", "color": "#A6A6A6", "strokeWidth": 1, "xOffset": 0, "y2Offset": 4.5},
 "encoding": {"x": {"field": "from", "type": "nominal"}, "y": {"field": "level", "type": "quantitative"}, "y2": {"field": "level"}}},
{"transform": [{"filter": "datum.type=='MI'"}], "mark": {"type": "rule", "color": "#A6A6A6", "strokeWidth": 1, "xOffset": -9.07, "y2Offset": 4.5},
 "encoding": {"x": {"field": "to", "type": "nominal"}, "y": {"field": "level", "type": "quantitative"}, "y2": {"field": "level"}}},
{"transform": [{"filter": "datum.type=='MI'"}], "mark": {"type": "text", "color": "#404040", "fontSize": 11, "baseline": "bottom", "dy": -1, "xOffset": 61},
 "encoding": {"x": {"field": "from", "type": "nominal"}, "y": {"field": "level", "type": "quantitative"}, "text": {"field": "label"}, "size": {"condition": {"test": "datum.label == 'ns'", "value": 11}, "value": 14}}},
{"transform": [{"filter": "datum.type=='II3'"}], "mark": {"type": "rule", "color": "#A6A6A6", "strokeWidth": 1, "xOffset": -9.07, "x2Offset": -9.07},
 "encoding": {"x": {"field": "from", "type": "nominal"}, "x2": {"field": "to"}, "y": {"field": "level", "type": "quantitative"}}},
{"transform": [{"filter": "datum.type=='II3'"}], "mark": {"type": "rule", "color": "#A6A6A6", "strokeWidth": 1, "xOffset": -9.07, "y2Offset": 4.5},
 "encoding": {"x": {"field": "from", "type": "nominal"}, "y": {"field": "level", "type": "quantitative"}, "y2": {"field": "level"}}},
{"transform": [{"filter": "datum.type=='II3'"}], "mark": {"type": "rule", "color": "#A6A6A6", "strokeWidth": 1, "xOffset": -9.07, "y2Offset": 4.5},
 "encoding": {"x": {"field": "to", "type": "nominal"}, "y": {"field": "level", "type": "quantitative"}, "y2": {"field": "level"}}},
{"transform": [{"filter": "datum.type=='II3'"}], "mark": {"type": "text", "color": "#404040", "fontSize": 11, "baseline": "bottom", "dy": -1, "xOffset": 24},
 "encoding": {"x": {"field": "from", "type": "nominal"}, "y": {"field": "level", "type": "quantitative"}, "text": {"field": "label"}, "size": {"condition": {"test": "datum.label == 'ns'", "value": 11}, "value": 14}}},
{"transform": [{"filter": "datum.type=='c2c'"}], "mark": {"type": "rule", "color": "#A6A6A6", "strokeWidth": 1},
 "encoding": {"x": {"field": "from", "type": "nominal"}, "x2": {"field": "to"}, "y": {"field": "level", "type": "quantitative"}}},
{"transform": [{"filter": "datum.type=='c2c'"}], "mark": {"type": "rule", "color": "#A6A6A6", "strokeWidth": 1, "y2Offset": 4.5},
 "encoding": {"x": {"field": "from", "type": "nominal"}, "y": {"field": "level", "type": "quantitative"}, "y2": {"field": "level"}}},
{"transform": [{"filter": "datum.type=='c2c'"}], "mark": {"type": "rule", "color": "#A6A6A6", "strokeWidth": 1, "y2Offset": 4.5},
 "encoding": {"x": {"field": "to", "type": "nominal"}, "y": {"field": "level", "type": "quantitative"}, "y2": {"field": "level"}}},
{"transform": [{"filter": "datum.type=='c2c'"}], "mark": {"type": "text", "color": "#404040", "fontSize": 11, "baseline": "bottom", "dy": -1, "xOffset": 63.5},
 "encoding": {"x": {"field": "from", "type": "nominal"}, "y": {"field": "level", "type": "quantitative"}, "text": {"field": "label"}}}
]}
}
]
}
